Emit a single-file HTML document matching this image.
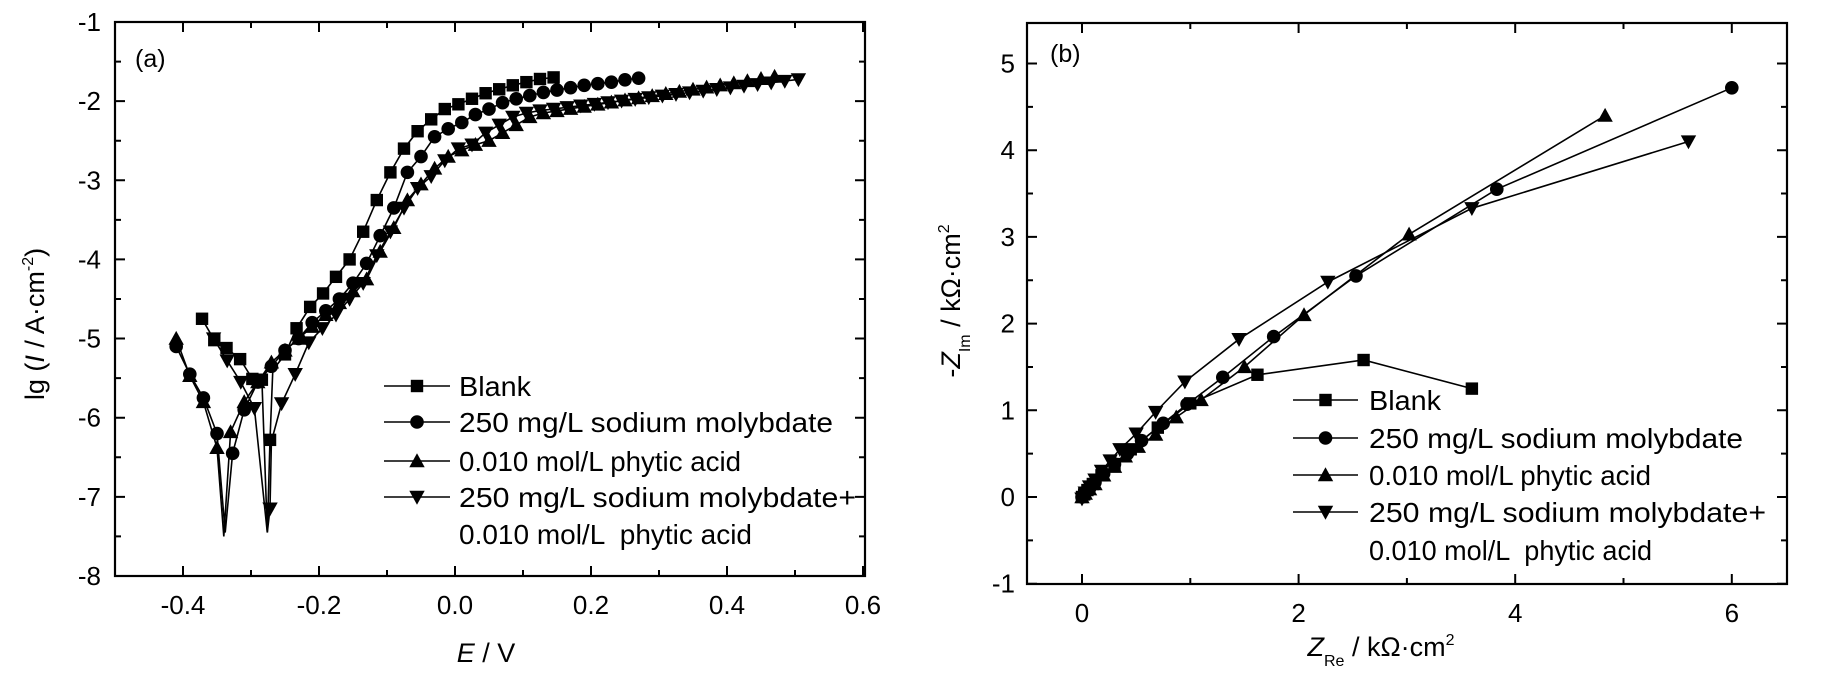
<!DOCTYPE html>
<html><head><meta charset="utf-8"><style>
html,body{margin:0;padding:0;background:#fff;}
svg{display:block;font-family:"Liberation Sans",Arial,sans-serif;}
</style></head><body>
<svg id="s" width="1829" height="676" viewBox="0 0 1829 676" xmlns="http://www.w3.org/2000/svg"></svg>
<script>
var S=document.getElementById('s'),h='';
function xa(e){return 115+680*(e+0.5);} function ya(v){return 22+79.14*(-1-v);}
function xb(v){return 1082+108.3*v;} function yb(v){return 497-86.7*v;}
function mk(t,x,y){var r=6.2;
 if(t==0)return '<rect x="'+(x-r)+'" y="'+(y-r)+'" width="'+2*r+'" height="'+2*r+'"/>';
 if(t==1)return '<circle cx="'+x+'" cy="'+y+'" r="'+(r+0.6)+'"/>';
 if(t==2)return '<polygon points="'+x+','+(y-r-1.5)+' '+(x+r+1.5)+','+(y+r)+' '+(x-r-1.5)+','+(y+r)+'"/>';
 return '<polygon points="'+x+','+(y+r+1.5)+' '+(x+r+1.5)+','+(y-r)+' '+(x-r-1.5)+','+(y-r)+'"/>';}
function series(d,fx,fy,t){var p=d.map(function(q){return fx(q[0]).toFixed(1)+','+fy(q[1]).toFixed(1)}).join(' ');
 h+='<polyline points="'+p+'" fill="none" stroke="#000" stroke-width="1.6"/>';
 d.forEach(function(q){if(!q[2])h+=mk(t,fx(q[0]),fy(q[1]));});}
var A0=[[-0.372,-4.75],[-0.354,-5.02],[-0.336,-5.12],[-0.316,-5.26],[-0.298,-5.51],[-0.284,-5.52],[-0.276,-7.45,1],[-0.272,-6.28],[-0.268,-5.4,1],[-0.25,-5.2],[-0.233,-4.87],[-0.213,-4.6],[-0.194,-4.43],[-0.175,-4.22],[-0.155,-4.0],[-0.135,-3.65],[-0.115,-3.25],[-0.095,-2.9],[-0.075,-2.6],[-0.055,-2.38],[-0.035,-2.23],[-0.015,-2.1],[0.005,-2.04],[0.025,-1.97],[0.045,-1.9],[0.065,-1.85],[0.085,-1.8],[0.105,-1.76],[0.125,-1.72],[0.145,-1.7]];
var A1=[[-0.41,-5.1],[-0.39,-5.45],[-0.37,-5.75],[-0.35,-6.2],[-0.338,-7.45,1],[-0.327,-6.45],[-0.31,-5.9],[-0.29,-5.55],[-0.27,-5.35],[-0.25,-5.15],[-0.23,-5.0],[-0.21,-4.8],[-0.19,-4.65],[-0.17,-4.5],[-0.15,-4.3],[-0.13,-4.05],[-0.11,-3.7],[-0.09,-3.35],[-0.07,-2.9],[-0.05,-2.7],[-0.03,-2.45],[-0.01,-2.35],[0.01,-2.27],[0.03,-2.17],[0.05,-2.1],[0.07,-2.02],[0.09,-1.97],[0.11,-1.93],[0.13,-1.89],[0.15,-1.86],[0.17,-1.83],[0.19,-1.8],[0.21,-1.78],[0.23,-1.76],[0.25,-1.73],[0.27,-1.71]];
var A2=[[-0.41,-5.0],[-0.39,-5.47],[-0.37,-5.8],[-0.35,-6.38],[-0.34,-7.5,1],[-0.33,-6.18],[-0.31,-5.8],[-0.29,-5.55],[-0.27,-5.3],[-0.25,-5.15],[-0.23,-5.0],[-0.21,-4.85],[-0.19,-4.7],[-0.17,-4.55],[-0.15,-4.4],[-0.13,-4.25],[-0.11,-3.9],[-0.09,-3.6],[-0.07,-3.25],[-0.05,-3.05],[-0.03,-2.85],[-0.01,-2.7],[0.01,-2.62],[0.03,-2.55],[0.05,-2.5],[0.07,-2.4],[0.09,-2.3],[0.11,-2.2]];
for(var e=0.13;e<=0.475;e+=0.02){A2.push([e,-2.15+0.46*(e-0.13)/0.34]);}
var A3=[[-0.355,-5.0],[-0.335,-5.28],[-0.315,-5.55],[-0.295,-5.88],[-0.276,-7.45,1],[-0.272,-7.15],[-0.27,-6.3,1],[-0.255,-5.82],[-0.235,-5.45],[-0.215,-5.05],[-0.195,-4.87],[-0.175,-4.7],[-0.155,-4.5],[-0.135,-4.3],[-0.115,-3.95],[-0.095,-3.65],[-0.075,-3.35],[-0.055,-3.1],[-0.035,-2.95],[-0.015,-2.75],[0.005,-2.6],[0.025,-2.55],[0.045,-2.4],[0.065,-2.3],[0.085,-2.2],[0.105,-2.15]];
for(var e=0.125;e<=0.515;e+=0.02){A3.push([e,-2.12+0.4*(e-0.125)/0.385]);}
h+='<g fill="#000">';series(A0,xa,ya,0);series(A1,xa,ya,1);series(A2,xa,ya,2);series(A3,xa,ya,3);h+='</g>';
var B0=[[0,0],[0.02,0.03],[0.05,0.08],[0.1,0.15],[0.18,0.25],[0.3,0.38],[0.45,0.55],[0.7,0.8],[1.0,1.08],[1.62,1.41],[2.6,1.58],[3.6,1.25]];
var B1=[[0,0],[0.03,0.05],[0.07,0.1],[0.12,0.17],[0.2,0.27],[0.3,0.38],[0.42,0.5],[0.55,0.65],[0.75,0.85],[0.97,1.07],[1.3,1.38],[1.77,1.85],[2.53,2.55],[3.83,3.55],[6.0,4.72]];
var B2=[[0,0],[0.03,0.04],[0.07,0.09],[0.12,0.15],[0.2,0.25],[0.3,0.35],[0.4,0.47],[0.52,0.58],[0.68,0.72],[0.87,0.92],[1.1,1.12],[1.5,1.5],[2.05,2.1],[3.02,3.03],[4.83,4.4]];
var B3=[[0,-0.02],[0.03,0.05],[0.07,0.12],[0.12,0.2],[0.18,0.3],[0.26,0.42],[0.35,0.55],[0.5,0.73],[0.68,0.98],[0.95,1.33],[1.45,1.82],[2.27,2.48],[3.6,3.33],[5.6,4.1]];
h+='<g fill="#000">';series(B0,xb,yb,0);series(B1,xb,yb,1);series(B2,xb,yb,2);series(B3,xb,yb,3);h+='</g>';
h+='<rect x="115" y="22" width="750" height="554" fill="none" stroke="#000" stroke-width="2.2"/>';
h+='<rect x="1027" y="23" width="760" height="561" fill="none" stroke="#000" stroke-width="2.2"/>';
var tk='';
for(var v=-8;v<=-1;v+=0.5){var y=ya(v),L=(v%1==0)?10:6;tk+='M115,'+y+'h'+L+'M865,'+y+'h-'+L;
 if(v%1==0)h+='<text x="101" y="'+(y+9)+'" font-size="26" text-anchor="end">'+v+'</text>';}
for(var i=-5;i<=6;i++){var e=i/10,x=xa(e),L=(i%2==0)?10:6;tk+='M'+x+',576v-'+L+'M'+x+',22v'+L;
 if(i%2==0&&i>-5)h+='<text x="'+x+'" y="614" font-size="26" text-anchor="middle">'+(e==0?'0.0':e.toFixed(1))+'</text>';}
for(var v=-1;v<=5;v+=0.5){var y=yb(v),L=(v%1==0)?10:6;tk+='M1027,'+y+'h'+L+'M1787,'+y+'h-'+L;
 if(v%1==0)h+='<text x="1015" y="'+(y+9)+'" font-size="26" text-anchor="end">'+v+'</text>';}
for(var i=0;i<=6;i++){var x=xb(i),L=(i%2==0)?10:6;tk+='M'+x+',584v-'+L+'M'+x+',23v'+L;
 if(i%2==0)h+='<text x="'+x+'" y="622" font-size="26" text-anchor="middle">'+i+'</text>';}
h+='<path d="'+tk+'" stroke="#000" stroke-width="2" fill="none"/>';
h+='<text x="135" y="67" font-size="25">(a)</text><text x="1050" y="62" font-size="25">(b)</text>';
h+='<text x="486" y="662" font-size="27" text-anchor="middle"><tspan font-style="italic">E</tspan> / V</text>';
h+='<text transform="translate(44,324) rotate(-90)" font-size="27" text-anchor="middle">lg (<tspan font-style="italic">I</tspan> / A·cm<tspan font-size="16" dy="-11">-2</tspan><tspan dy="11">)</tspan></text>';
h+='<text x="1381" y="656" font-size="27" text-anchor="middle"><tspan font-style="italic">Z</tspan><tspan font-size="16" dy="10">Re</tspan><tspan dy="-10"> / kΩ·cm</tspan><tspan font-size="16" dy="-11">2</tspan></text>';
h+='<text transform="translate(960,301) rotate(-90)" font-size="27" text-anchor="middle">-<tspan font-style="italic">Z</tspan><tspan font-size="16" dy="10">Im</tspan><tspan dy="-10"> / kΩ·cm</tspan><tspan font-size="16" dy="-11">2</tspan></text>';
var labs=['Blank','250 mg/L sodium molybdate','0.010 mol/L phytic acid','250 mg/L sodium molybdate+'];
var wid=[72,374,282,397];
function legend(x0,x1,xt,ys,last){h+='<g fill="#000">';for(var i=0;i<4;i++){h+='<line x1="'+x0+'" x2="'+x1+'" y1="'+ys[i]+'" y2="'+ys[i]+'" stroke="#000" stroke-width="1.6"/>'+mk(i,(x0+x1)/2,ys[i]);
 h+='<text x="'+xt+'" y="'+(ys[i]+10)+'" font-size="28" textLength="'+wid[i]+'" lengthAdjust="spacingAndGlyphs">'+labs[i]+'</text>';}
 h+='<text x="'+xt+'" y="'+(ys[4]+10)+'" font-size="28" textLength="'+last+'" lengthAdjust="spacingAndGlyphs" xml:space="preserve">0.010 mol/L  phytic acid</text></g>';}
legend(384,450,459,[386,422,461,497,534],293);
legend(1293,1358,1369,[400,438,475,512,550],283);
S.innerHTML=h;
</script>
</body></html>
